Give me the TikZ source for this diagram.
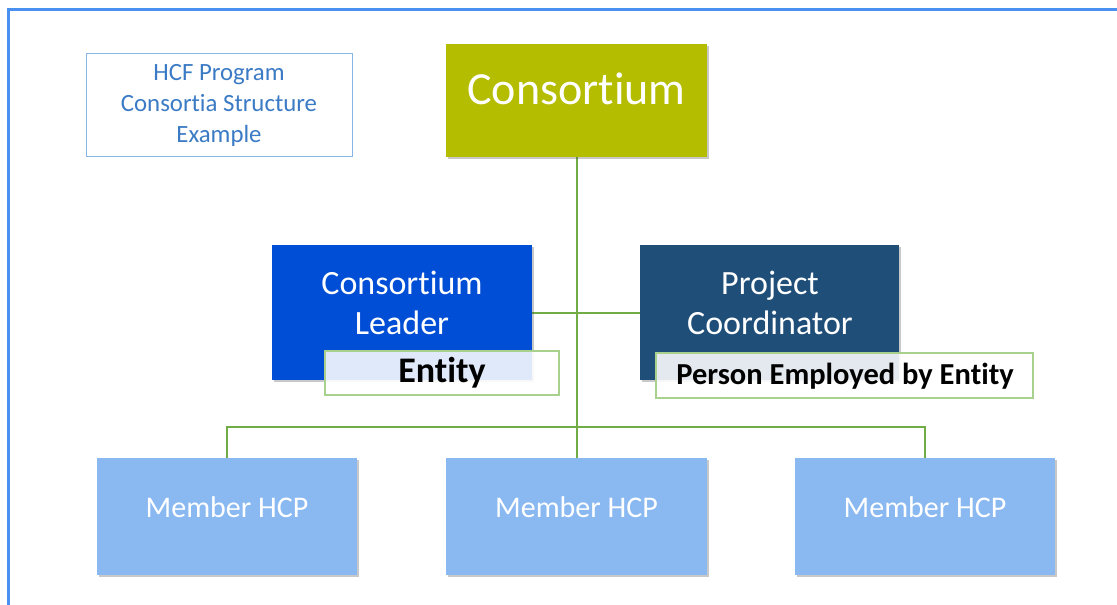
\documentclass[tikz,border=0pt]{standalone}
\usepackage{fontspec}
\setmainfont[Ligatures=NoCommon]{Carlito}
\usetikzlibrary{shadows,backgrounds}
\definecolor{consgreen}{HTML}{B5BD00}
\definecolor{leadblue}{HTML}{004DD6}
\definecolor{coordblue}{HTML}{1F4E79}
\definecolor{memblue}{HTML}{8AB9F1}
\definecolor{linkgreen}{HTML}{70AD47}
\definecolor{labgreen}{HTML}{A9D18E}
\definecolor{titletext}{HTML}{3B7BC5}
\definecolor{titleborder}{HTML}{86B6E6}
\definecolor{framecol}{HTML}{4A90F0}
\tikzset{
  boxbase/.style={rectangle, draw=none, inner sep=0pt,
    drop shadow={shadow xshift=1.5pt, shadow yshift=-2pt, opacity=0.3, fill=black!70}},
  wtext/.style={text=white, align=center, inner sep=0pt, anchor=base},
  link/.style={draw=linkgreen, line width=2pt},
  tagbox/.style={rectangle, draw=labgreen, line width=1.3pt, fill=white, fill opacity=0.88, text opacity=1, inner sep=0pt, font=\bfseries}
}
\begin{document}
\begin{tikzpicture}[x=1pt,y=-1pt]
\useasboundingbox (0,0) rectangle (1117,605);
\draw[framecol, line width=3pt] (8,605) -- (8,9) -- (1117,9);

% title
\node[draw=titleborder, line width=0.8pt, minimum width=266pt, minimum height=103pt, inner sep=0pt] (titlebox) at (219,104.5) {};
\node[text=titletext, align=center, anchor=base, font=\fontsize{24.8}{30.7}\selectfont, inner sep=0pt] (titletxt) at (219,142.3) {HCF Program\\Consortia Structure\\Example};

% boxes
\node[boxbase, fill=consgreen, minimum width=261pt, minimum height=113pt] (cons) at (576.5,100.5) {};
\node[boxbase, fill=leadblue, minimum width=260pt, minimum height=135pt] (lead) at (402,312.5) {};
\node[boxbase, fill=coordblue, minimum width=259pt, minimum height=135pt] (coord) at (769.5,312.5) {};
\node[boxbase, fill=memblue, minimum width=260pt, minimum height=117pt] (m1) at (227,516.5) {};
\node[boxbase, fill=memblue, minimum width=261pt, minimum height=117pt] (m2) at (576.5,516.5) {};
\node[boxbase, fill=memblue, minimum width=260pt, minimum height=117pt] (m3) at (925,516.5) {};

% connectors
\begin{scope}[on background layer]
\fill[white] (0,0) rectangle (1117,605);
\draw[link] (cons.south) -- (m2.north);
\draw[link] (lead.east) -- (coord.west);
\draw[link] (m1.north) -- ++(0,-31) -| (m3.north);
\end{scope}

% box texts
\node[wtext, font=\fontsize{46}{54}\selectfont] (constxt) at (576.5,104) {Consortium};
\node[wtext, font=\fontsize{34}{40}\selectfont] (leadtxt) at (402,334.3) {Consortium\\Leader};
\node[wtext, font=\fontsize{34}{40}\selectfont] (coordtxt) at (770,334.3) {Project\\Coordinator};
\node[wtext, font=\fontsize{30}{36}\selectfont] (m1txt) at (227,517.3) {Member HCP};
\node[wtext, font=\fontsize{30}{36}\selectfont] (m2txt) at (576.5,517.3) {Member HCP};
\node[wtext, font=\fontsize{30}{36}\selectfont] (m3txt) at (925,517.3) {Member HCP};

% tags
\node[tagbox, minimum width=234pt, minimum height=44pt] (enttag) at (442,373) {};
\node[anchor=base, font=\bfseries\fontsize{36}{42}\selectfont, inner sep=0pt] (enttxt) at (442,382) {Entity};
\node[tagbox, minimum width=377pt, minimum height=45pt] (perstag) at (844.5,375.5) {};
\node[anchor=base, font=\bfseries\fontsize{30.5}{36}\selectfont, inner sep=0pt] (perstxt) at (845,384.5) {Person Employed by Entity};
\end{tikzpicture}
\end{document}
